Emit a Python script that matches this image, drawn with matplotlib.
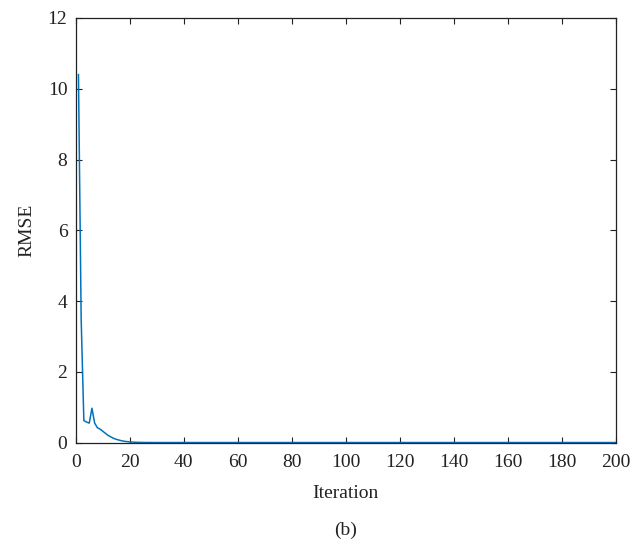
import matplotlib
matplotlib.use("Agg")
from matplotlib import pyplot as plt

# RMSE per iteration (values past ~30 sit on zero)
rmse_head = [10.4, 3.5, 0.62, 0.58, 0.55, 0.97, 0.55, 0.42, 0.38, 0.32,
             0.26, 0.20, 0.16, 0.12, 0.09, 0.07, 0.05, 0.035, 0.025, 0.018,
             0.012, 0.008, 0.005, 0.003, 0.002, 0.001, 0.0005, 0.0002, 0.0001, 0.0]
rmse_tail = [0.0] * 170
rmse = rmse_head + rmse_tail
iterations = list(range(1, len(rmse) + 1))

xticks = [0, 20, 40, 60, 80, 100, 120, 140, 160, 180, 200]
yticks = [0, 2, 4, 6, 8, 10, 12]

plt.rcParams["font.family"] = ["Liberation Serif", "DejaVu Serif"]
plt.rcParams["font.size"] = 14

fig = plt.figure(figsize=(6.42, 5.45), dpi=100)
ax = fig.add_axes([0.118, 0.188, 0.841, 0.779])

ax.plot(iterations, rmse, color="#0072BD", linewidth=1.1)

ax.set_xlim(0, 200)
ax.set_ylim(0, 12)
ax.set_xticks(xticks)
ax.set_yticks(yticks)
ax.tick_params(direction="in", top=True, right=True, length=4, width=0.8,
               colors="#222222", labelcolor="#222222")
ax.tick_params(axis="x", pad=8)
ax.tick_params(axis="y", pad=6)
for s in ax.spines.values():
    s.set_linewidth(0.9)
    s.set_color("#222222")

ax.set_xlabel("Iteration", color="#222222", labelpad=10)
ax.set_ylabel("RMSE", color="#222222", labelpad=9)
fig.text(0.538, 0.026, "(b)", ha="center", va="center", fontsize=14, color="#222222")

fig.savefig("out.png", dpi=100)
